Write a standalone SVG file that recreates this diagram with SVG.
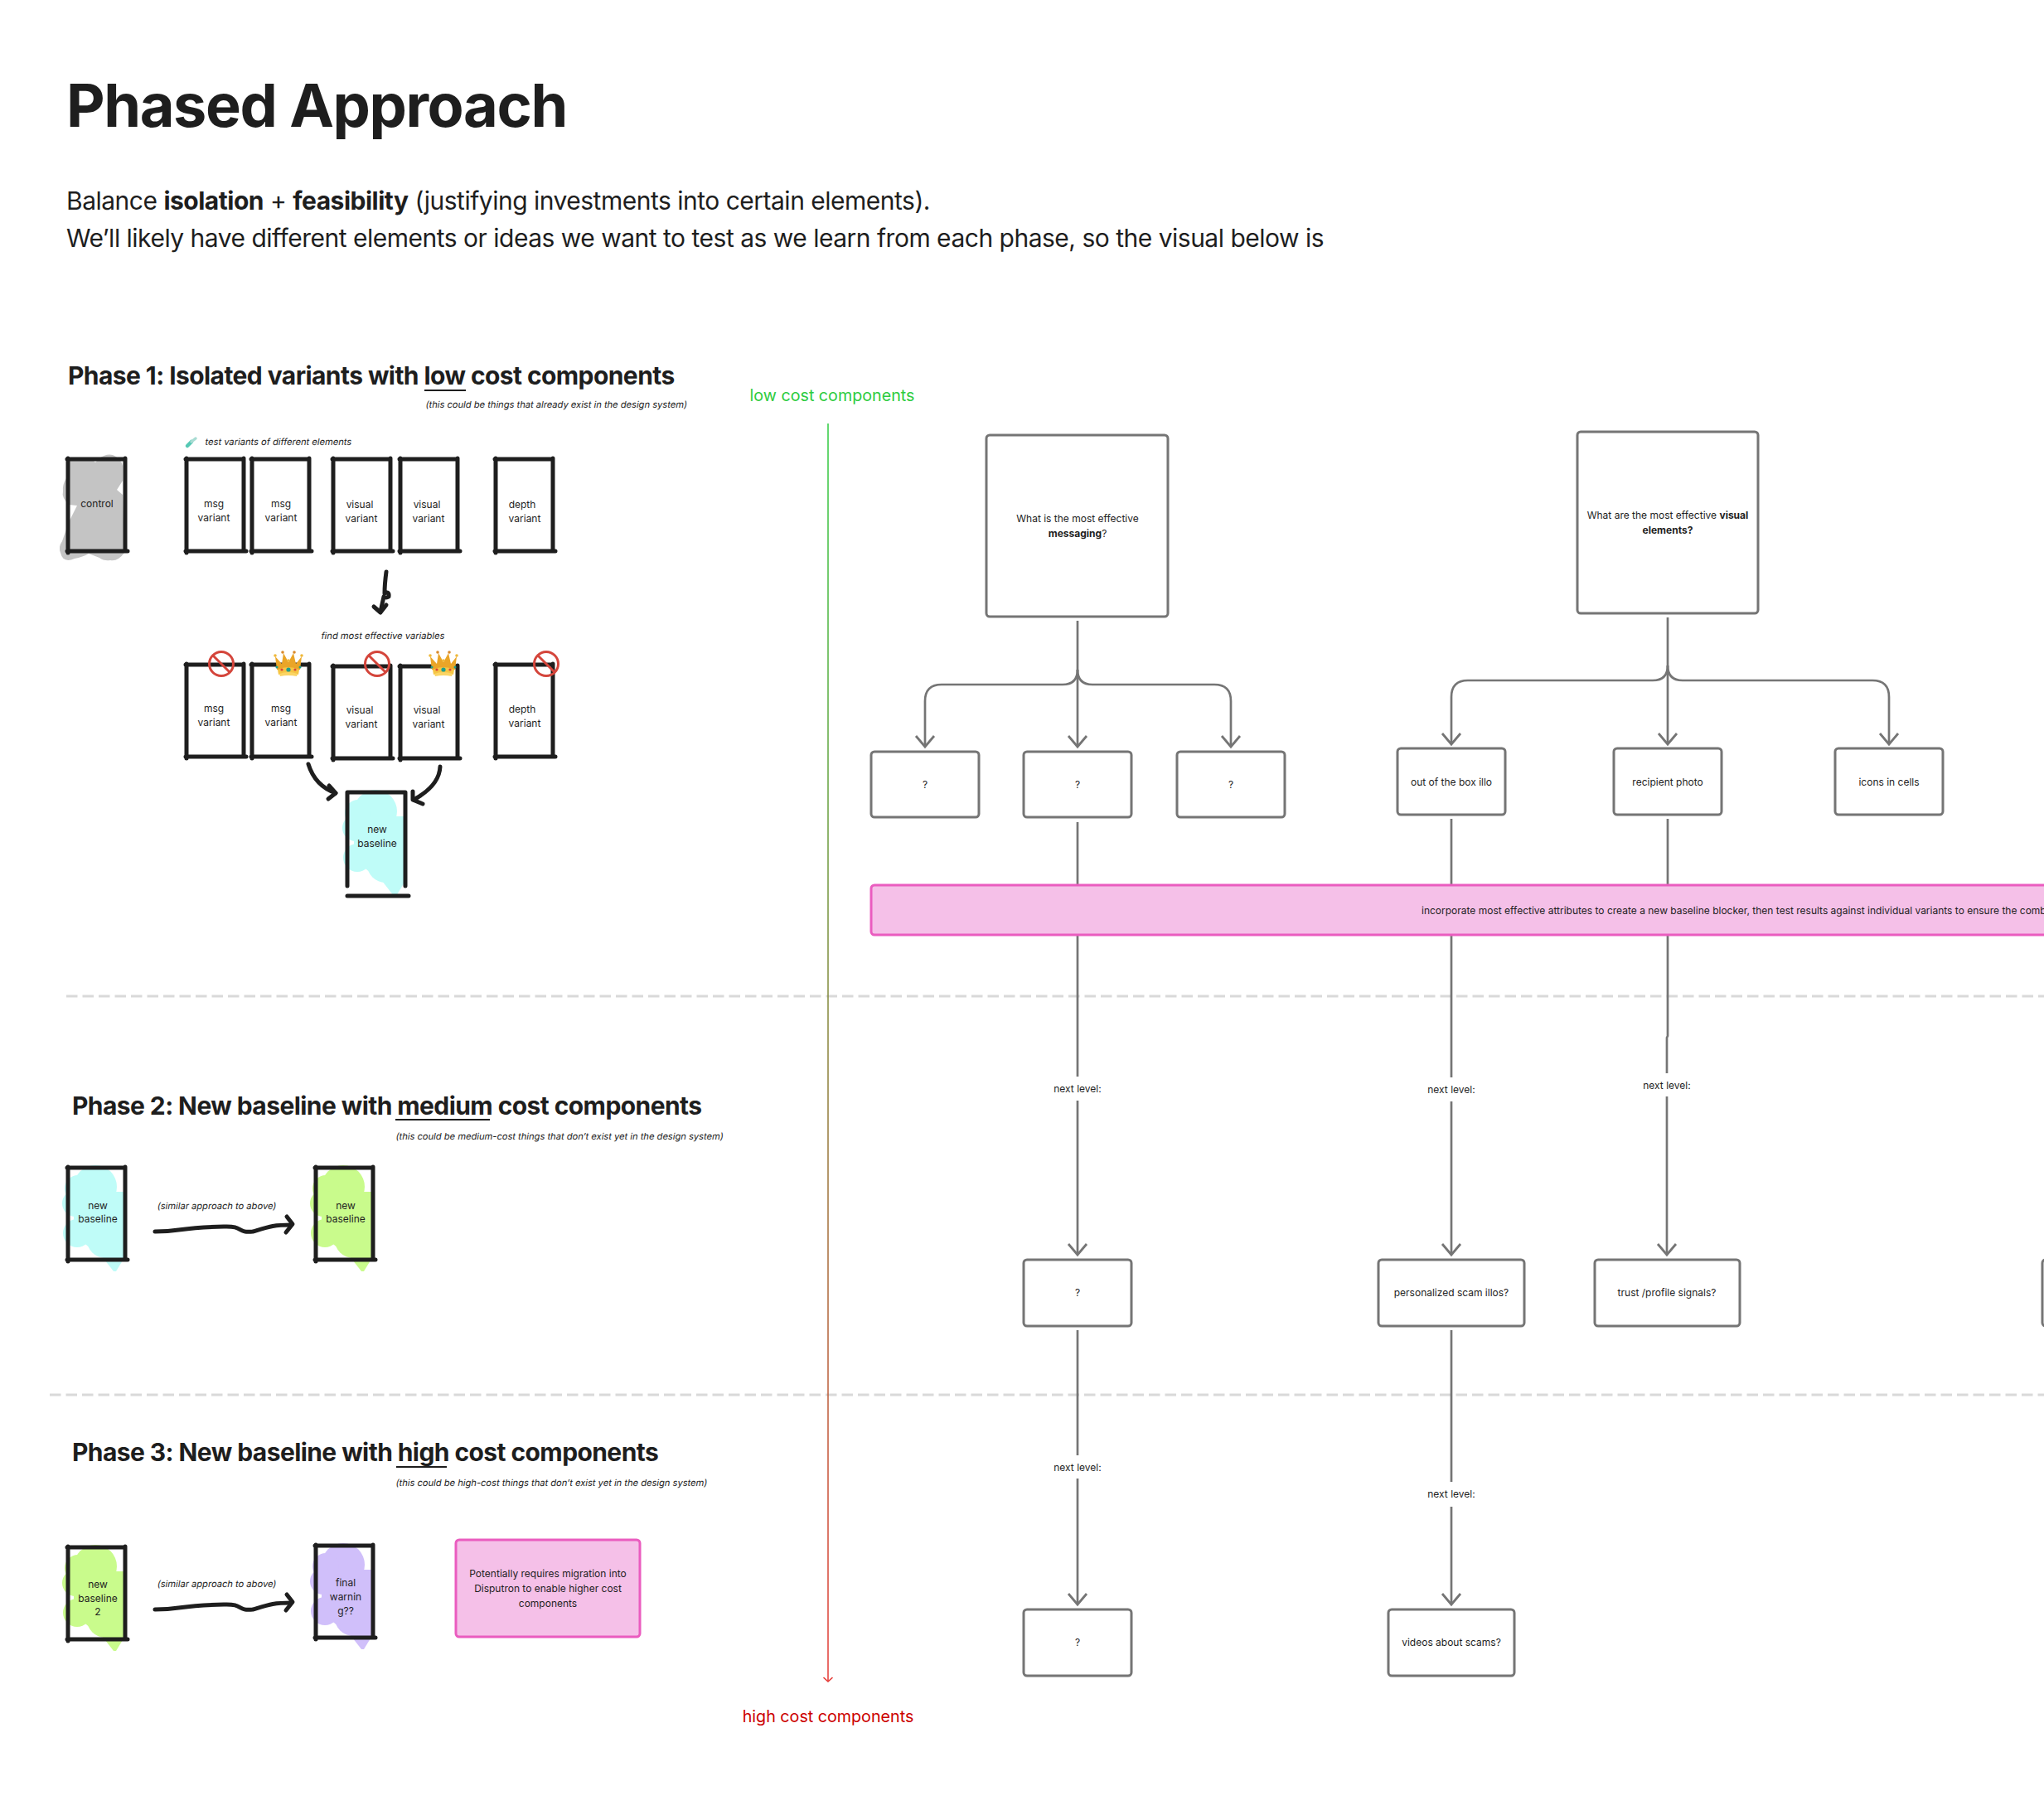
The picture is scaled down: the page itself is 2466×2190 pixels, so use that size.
<svg xmlns="http://www.w3.org/2000/svg" width="2466" height="2190" viewBox="0 0 2466 2190">
<style>
text{font-family:Inter,"Noto Sans","Liberation Sans",sans-serif;fill:#1e1e1e}
.t{font-size:72px;font-weight:700;letter-spacing:-1.4px}
.s{font-size:30px;letter-spacing:-.5px}
.h{font-size:30px;font-weight:700;letter-spacing:-.58px}
.n{font-size:11.15px}
.c{font-size:12px;text-anchor:middle}
.b{font-weight:700}
.box{fill:#fff;stroke:#757575;stroke-width:3}
.pink{fill:#f5c0e8;stroke:#ea5cbf;stroke-width:3}
.ln{fill:none;stroke:#757575;stroke-width:2.7}
.ar{marker-end:url(#h)}
.hand{fill:none;stroke:#1e1e1e;stroke-width:5;stroke-linecap:round;stroke-linejoin:round}
.dash{fill:none;stroke:#d9d9d9;stroke-width:3;stroke-dasharray:13.5 6}
.u{stroke:#1e1e1e;stroke-width:2}
.no{fill:none;stroke:#d4453b;stroke-width:3}
</style>
<defs>
<linearGradient id="g" gradientUnits="userSpaceOnUse" x1="0" y1="511" x2="0" y2="2029"><stop offset="0" stop-color="#2ecc40"/><stop offset="1" stop-color="#e53935"/></linearGradient>
<marker id="h" markerUnits="userSpaceOnUse" markerWidth="18" markerHeight="26" refX="14" refY="13" orient="auto" overflow="visible"><path d="M1,2 L14,13 L1,24" fill="none" stroke="#757575" stroke-width="2.8"/></marker>
<marker id="rh" markerUnits="userSpaceOnUse" markerWidth="10" markerHeight="14" refX="7" refY="7" orient="auto" overflow="visible"><path d="M2,1.5 L7,7 L2,12.5" fill="none" stroke="#e53935" stroke-width="1.6"/></marker>
<g id="sk"><path class="hand" d="M0,1 H70 M70,0 V112 M1,0 V114 M0,112 H73"/></g>
<g id="blob"><circle cx="34" cy="24" r="26"/><circle cx="13" cy="26" r="16"/><circle cx="10" cy="44" r="16"/><circle cx="12" cy="80" r="17"/><circle cx="50" cy="48" r="20"/><circle cx="38" cy="78" r="22"/><circle cx="46" cy="88" r="22"/><rect x="8" y="30" width="60" height="60"/><rect x="46" y="60" width="24" height="50"/><path d="M42,108 H70 L59,126 H56 Z"/></g>
<g id="crown"><path d="M-14,6 L-16,-10 L-8,-1 L-6,-14 L0,-3 L6,-14 L9,-1 L16,-10 L14,6 Z" fill="#eaa528"/><path d="M-13,6 Q0,0 13,6 L12,12 Q0,8 -12,12 Z" fill="#f6c544"/><path d="M-11,11 Q0,7 11,11 L10,14 Q0,12 -10,14Z" fill="#fbd565"/><circle cx="0" cy="6" r="2.6" fill="#1f9e8c"/><circle cx="-8" cy="6" r="1.6" fill="#d9453a"/><circle cx="8" cy="6" r="1.6" fill="#d9453a"/><circle cx="-14" cy="3" r="1.5" fill="#1f9e8c"/><circle cx="14" cy="3" r="1.5" fill="#1f9e8c"/><circle cx="-16" cy="-11" r="1.8" fill="#f0b93a"/><circle cx="-7" cy="-15" r="1.8" fill="#d98a2b"/><circle cx="0" cy="-5" r="1.8" fill="#f0b93a"/><circle cx="7" cy="-15" r="1.8" fill="#d98a2b"/><circle cx="16" cy="-11" r="1.8" fill="#f0b93a"/></g>
<g id="noSign"><circle class="no" r="14.5"/><line class="no" x1="-10" y1="-10" x2="10" y2="10"/></g>
</defs>
<rect width="2466" height="2190" fill="#fff"/>

<g id="header">
<text class="t" x="80" y="153">Phased Approach</text>
<text class="s" x="80" y="253">Balance <tspan class="b">isolation</tspan> + <tspan class="b">feasibility</tspan> (justifying investments into certain elements).</text>
<text class="s" x="80" y="298">We’ll likely have different elements or ideas we want to test as we learn from each phase, so the visual below is</text>
</g>

<g id="dividers">
<path class="dash" d="M80,1202 H2466"/>
<path class="dash" d="M60,1683 H2466"/>
</g>

<g id="phase1-heading">
<text class="h" x="82" y="464">Phase 1: Isolated variants with low cost components</text>
<line class="u" x1="512" y1="471" x2="562" y2="471"/>
<text class="n" transform="translate(513 492) skewX(-10)">(this could be things that already exist in the design system)</text>
</g>
<g id="phase2-heading">
<text class="h" x="87" y="1345">Phase 2: New baseline with medium cost components</text>
<line class="u" x1="477" y1="1351" x2="591" y2="1351"/>
<text class="n" transform="translate(477 1375) skewX(-10)">(this could be medium-cost things that don’t exist yet in the design system)</text>
</g>
<g id="phase3-heading">
<text class="h" x="87" y="1763">Phase 3: New baseline with high cost components</text>
<line class="u" x1="478" y1="1770" x2="539" y2="1770"/>
<text class="n" transform="translate(477 1793) skewX(-10)">(this could be high-cost things that don’t exist yet in the design system)</text>
</g>

<g id="control">
<path fill="#c4c4c4" d="M83,555 L110,553 L115,558 L120,553 Q128,547 136,549 Q146,553 148,562 L148,580 L141,591 L148,597 L150,667 Q142,678 133,676 Q125,677 120,673 L107,668 Q100,672 90,674 Q76,680 73,667 Q70,660 75,653 L83,630 L93,610 L83,609 Q74,600 76,593 Q75,585 80,577 Z"/>
<use href="#sk" x="81" y="553"/>
<text class="c" x="117" y="612">control</text>
</g>
<g id="test-label">
<path d="M226,538 L231,533" stroke="#55c8b4" stroke-width="4.5" stroke-linecap="round"/><path d="M231,533 L236,529" stroke="#a9dcd3" stroke-width="3.5" stroke-linecap="round"/>
<text class="n" transform="translate(247 537) skewX(-10)">test variants of different elements</text>
</g>
<g id="v1"><use href="#sk" x="224" y="553"/><text class="c" x="258" y="612">msg</text><text class="c" x="258" y="629">variant</text></g>
<g id="v2"><use href="#sk" x="303" y="553"/><text class="c" x="339" y="612">msg</text><text class="c" x="339" y="629">variant</text></g>
<g id="v3"><use href="#sk" x="401" y="553"/><text class="c" x="434" y="613">visual</text><text class="c" x="436" y="630">variant</text></g>
<g id="v4"><use href="#sk" x="482" y="553"/><text class="c" x="515" y="613">visual</text><text class="c" x="517" y="630">variant</text></g>
<g id="v5"><use href="#sk" x="597" y="553"/><text class="c" x="630" y="613">depth</text><text class="c" x="633" y="630">variant</text></g>

<g id="hand-arrow-1">
<path class="hand" d="M466,690 Q464,705 464,716 Q470,713 469,720 Q466,722 463,720 L459,738"/>
<path class="hand" d="M451,732 L459,739 L466,730"/>
</g>
<text class="n" transform="translate(387 771) skewX(-10)">find most effective variables</text>

<g id="r1"><use href="#sk" x="224" y="801"/><text class="c" x="258" y="859">msg</text><text class="c" x="258" y="876">variant</text><use href="#noSign" x="267" y="801"/></g>
<g id="r2"><use href="#sk" x="303" y="801"/><text class="c" x="339" y="859">msg</text><text class="c" x="339" y="876">variant</text><use href="#crown" x="348" y="802"/></g>
<g id="r3"><use href="#sk" x="401" y="803"/><text class="c" x="434" y="861">visual</text><text class="c" x="436" y="878">variant</text><use href="#noSign" x="455" y="801"/></g>
<g id="r4"><use href="#sk" x="482" y="803"/><text class="c" x="515" y="861">visual</text><text class="c" x="517" y="878">variant</text><use href="#crown" x="535" y="802"/></g>
<g id="r5"><use href="#sk" x="597" y="801"/><text class="c" x="630" y="860">depth</text><text class="c" x="633" y="877">variant</text><use href="#noSign" x="659" y="801"/></g>

<g id="hand-arrows-2">
<path class="hand" d="M372,922 Q380,948 405,957"/>
<path class="hand" d="M397,948 L405,957 L396,964"/>
<path class="hand" d="M531,925 Q530,948 499,965"/>
<path class="hand" d="M498,955 L498,965 L510,970"/>
</g>
<g id="new-baseline-1">
<use href="#blob" x="419" y="955" fill="#bffcf8"/>
<path class="hand" d="M419,1069 V956 H489 V1069 M419,1081 H493"/>
<text class="c" x="455" y="1005">new</text><text class="c" x="455" y="1022">baseline</text>
</g>

<g id="p2a"><use href="#blob" x="81" y="1408" fill="#bffcf8"/><use href="#sk" x="81" y="1408"/><text class="c" x="118" y="1459">new</text><text class="c" x="118" y="1475">baseline</text></g>
<g id="p2-arrow">
<text class="n" text-anchor="middle" transform="translate(261 1459) skewX(-10)">(similar approach to above)</text>
<path class="hand" d="M187,1486 C220,1486 215,1481 270,1480 C295,1479 285,1488 305,1486 C325,1480 330,1478 351,1478"/>
<path class="hand" d="M346,1468 L353,1477 L345,1487"/>
</g>
<g id="p2b"><use href="#blob" x="380" y="1408" fill="#c9fb8c"/><use href="#sk" x="380" y="1408"/><text class="c" x="417" y="1459">new</text><text class="c" x="417" y="1475">baseline</text></g>

<g id="p3a"><use href="#blob" x="81" y="1866" fill="#c9fb8c"/><use href="#sk" x="81" y="1866"/><text class="c" x="118" y="1916">new</text><text class="c" x="118" y="1933">baseline</text><text class="c" x="118" y="1949">2</text></g>
<g id="p3-arrow">
<text class="n" text-anchor="middle" transform="translate(261 1915) skewX(-10)">(similar approach to above)</text>
<path class="hand" d="M187,1942 C220,1942 215,1937 270,1936 C295,1935 285,1944 305,1942 C325,1936 330,1934 351,1934"/>
<path class="hand" d="M346,1924 L353,1933 L345,1943"/>
</g>
<g id="p3b"><use href="#blob" x="380" y="1864" fill="#d0bffa"/><use href="#sk" x="380" y="1864"/><text class="c" x="417" y="1914">final</text><text class="c" x="417" y="1931">warnin</text><text class="c" x="417" y="1948">g??</text></g>
<g id="migration">
<rect class="pink" x="550" y="1858" width="222" height="117" rx="4"/>
<text class="c" x="661" y="1903">Potentially requires migration into</text>
<text class="c" x="661" y="1921">Disputron to enable higher cost</text>
<text class="c" x="661" y="1939">components</text>
</g>

<g id="connectors">
<line x1="999" y1="511" x2="999" y2="2029" stroke="url(#g)" stroke-width="1.5" marker-end="url(#rh)"/>
<path class="ln ar" d="M1300,749 V901"/>
<path class="ln ar" d="M1300,808 Q1300,826 1282,826 H1136 Q1116,826 1116,846 V901"/>
<path class="ln ar" d="M1300,808 Q1300,826 1318,826 H1465 Q1485,826 1485,846 V901"/>
<path class="ln ar" d="M2012,745 V898"/>
<path class="ln ar" d="M2012,803 Q2012,821 1994,821 H1771 Q1751,821 1751,841 V898"/>
<path class="ln ar" d="M2012,803 Q2012,821 2030,821 H2259 Q2279,821 2279,841 V898"/>
<path class="ln" d="M1300,992 V1299"/>
<path class="ln ar" d="M1300,1328 V1514"/>
<path class="ln" d="M1751,988 V1300"/>
<path class="ln ar" d="M1751,1329 V1514"/>
<path class="ln" d="M2012,988 V1250 L2011,1252 V1295"/>
<path class="ln ar" d="M2011,1323 V1514"/>
<path class="ln" d="M1300,1605 V1756"/>
<path class="ln ar" d="M1300,1784 V1936"/>
<path class="ln" d="M1751,1605 V1788"/>
<path class="ln ar" d="M1751,1818 V1936"/>
</g>

<g id="range-labels">
<text x="1004" y="484" font-size="19.7" text-anchor="middle" style="fill:#2ecc40">low cost components</text>
<text x="999" y="2078" font-size="19.7" text-anchor="middle" style="fill:#cc0000">high cost components</text>
</g>

<g id="q1"><rect class="box" x="1190" y="525" width="219" height="219" rx="4"/><text class="c" x="1300" y="630">What is the most effective</text><text class="c b" x="1300" y="648">messaging<tspan font-weight="400">?</tspan></text></g>
<g id="q2"><rect class="box" x="1903" y="521" width="218" height="219" rx="4"/><text class="c" x="2012" y="626">What are the most effective <tspan class="b">visual</tspan></text><text class="c b" x="2012" y="644">elements?</text></g>
<g id="a1"><rect class="box" x="1051" y="907" width="130" height="79" rx="4"/><text class="c" x="1116" y="951">?</text></g>
<g id="a2"><rect class="box" x="1235" y="907" width="130" height="79" rx="4"/><text class="c" x="1300" y="951">?</text></g>
<g id="a3"><rect class="box" x="1420" y="907" width="130" height="79" rx="4"/><text class="c" x="1485" y="951">?</text></g>
<g id="b1"><rect class="box" x="1686" y="903" width="130" height="80" rx="4"/><text class="c" x="1751" y="948">out of the box illo</text></g>
<g id="b2"><rect class="box" x="1947" y="903" width="130" height="80" rx="4"/><text class="c" x="2012" y="948">recipient photo</text></g>
<g id="b3"><rect class="box" x="2214" y="903" width="130" height="80" rx="4"/><text class="c" x="2279" y="948">icons in cells</text></g>
<g id="blocker"><rect class="pink" x="1051" y="1068" width="1440" height="60" rx="4"/><text class="c" x="1715" y="1103" style="text-anchor:start">incorporate most effective attributes to create a new baseline blocker, then test results against individual variants to ensure the comb</text></g>
<g id="lv1">
<text class="c" x="1300" y="1318">next level:</text>
<text class="c" x="1751" y="1319">next level:</text>
<text class="c" x="2011" y="1314">next level:</text>
<text class="c" x="1300" y="1775">next level:</text>
<text class="c" x="1751" y="1807">next level:</text>
</g>
<g id="c1"><rect class="box" x="1235" y="1520" width="130" height="80" rx="4"/><text class="c" x="1300" y="1564">?</text></g>
<g id="c2"><rect class="box" x="1663" y="1520" width="176" height="80" rx="4"/><text class="c" x="1751" y="1564">personalized scam illos?</text></g>
<g id="c3"><rect class="box" x="1924" y="1520" width="175" height="80" rx="4"/><text class="c" x="2011" y="1564">trust /profile signals?</text></g>
<g id="c4"><rect class="box" x="2464" y="1520" width="60" height="80" rx="4"/></g>
<g id="d1"><rect class="box" x="1235" y="1942" width="130" height="80" rx="4"/><text class="c" x="1300" y="1986">?</text></g>
<g id="d2"><rect class="box" x="1675" y="1942" width="152" height="80" rx="4"/><text class="c" x="1751" y="1986">videos about scams?</text></g>
</svg>
